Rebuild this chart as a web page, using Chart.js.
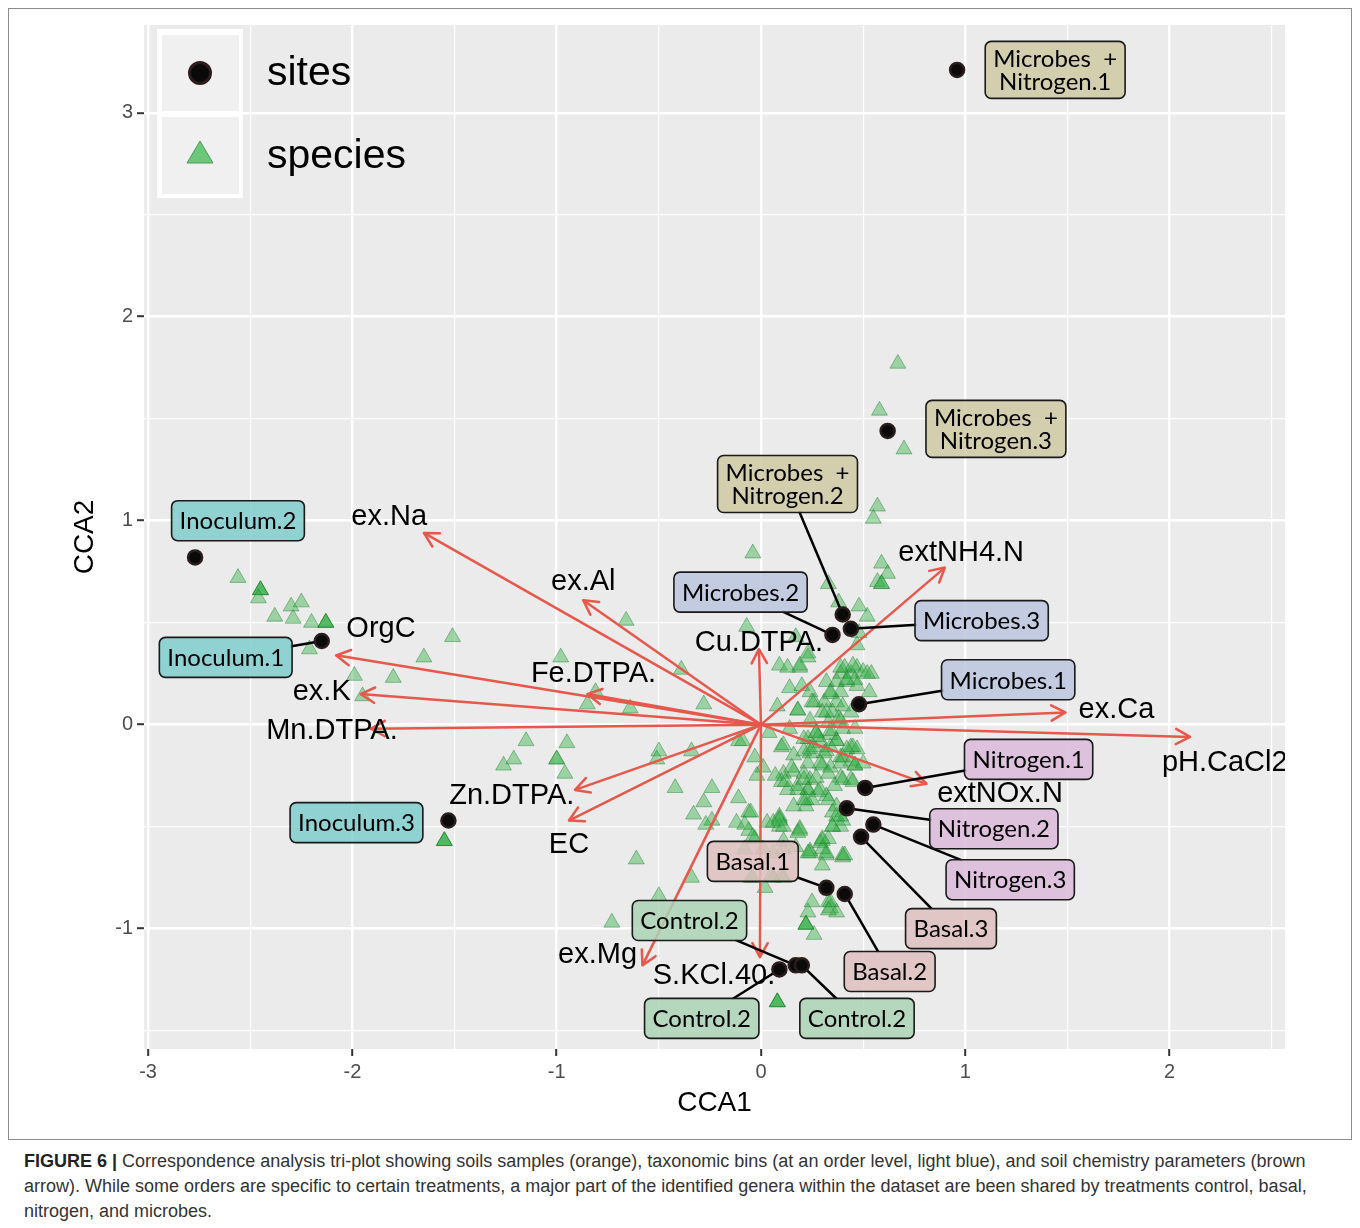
<!DOCTYPE html>
<html><head><meta charset="utf-8">
<script src="https://cdn.jsdelivr.net/npm/chart.js@4/dist/chart.umd.min.js"></script>
<style>
html,body{margin:0;padding:0;background:#fff;width:1360px;height:1228px;overflow:hidden;font-family:"Liberation Sans",Arial,sans-serif;}
#frame{position:absolute;left:8px;top:8px;width:1344px;height:1132px;border:1px solid #8c8c8c;box-sizing:border-box;}
#wrap{position:absolute;left:0;top:0;width:1360px;height:1140px;}
#caption{position:absolute;left:24px;top:1149px;width:1330px;font-size:18px;line-height:25px;color:#333;white-space:nowrap;}
#caption b{color:#222;}
</style></head><body>
<div id="frame"></div>
<div id="wrap"><canvas id="c" width="1360" height="1140"></canvas></div>
<div id="caption"><b>FIGURE 6 |</b> Correspondence analysis tri-plot showing soils samples (orange), taxonomic bins (at an order level, light blue), and soil chemistry parameters (brown<br>arrow). While some orders are specific to certain treatments, a major part of the identified genera within the dataset are been shared by treatments control, basal,<br>nitrogen, and microbes.</div>
<script>
// ---------------- DATA ----------------
const xTickValues = [-3, -2, -1, 0, 1, 2];
const yTickValues = [-1, 0, 1, 2, 3];
const xRange = [-3.02, 2.565];
const yRange = [-1.59, 3.43];

const legendNames = ["sites", "species"];
const xTitle = "CCA1";
const yTitle = "CCA2";

// sites
const siteNames = [
  "Microbes  +\nNitrogen.1", "Microbes  +\nNitrogen.3", "Microbes  +\nNitrogen.2",
  "Microbes.2", "Microbes.3", "Microbes.1",
  "Nitrogen.1", "Nitrogen.2", "Nitrogen.3",
  "Basal.3", "Basal.1", "Basal.2",
  "Control.2", "Control.2", "Control.2",
  "Inoculum.2", "Inoculum.1", "Inoculum.3"
];
const siteGroup = [
  "MN", "MN", "MN", "M", "M", "M", "N", "N", "N",
  "B", "B", "B", "C", "C", "C", "I", "I", "I"
];
const siteX = [0.96, 0.62, 0.40, 0.35, 0.44, 0.48, 0.51, 0.42, 0.55, 0.49, 0.32, 0.41, 0.17, 0.09, 0.20, -2.77, -2.15, -1.53];
const siteY = [3.21, 1.44, 0.54, 0.44, 0.47, 0.10, -0.31, -0.41, -0.49, -0.55, -0.80, -0.83, -1.18, -1.20, -1.18, 0.82, 0.41, -0.47];
// label anchors (repelled label centres, data units)
const siteLabelX = [1.44, 1.15, 0.13, -0.10, 1.08, 1.21, 1.31, 1.14, 1.22, 0.93, -0.04, 0.63, -0.35, -0.29, 0.47, -2.56, -2.62, -1.98];
const siteLabelY = [3.21, 1.45, 1.18, 0.65, 0.51, 0.22, -0.17, -0.51, -0.76, -1.00, -0.67, -1.21, -0.96, -1.44, -1.44, 1.00, 0.33, -0.48];
const siteLinked = [false, false, true, true, true, true, true, true, true, true, true, true, true, true, true, false, true, false];

// environmental vectors
const envNames = ["ex.Na", "ex.Al", "OrgC", "Fe.DTPA.", "ex.K", "Mn.DTPA.", "Cu.DTPA.", "Zn.DTPA.", "EC", "ex.Mg", "S.KCl.40.", "extNH4.N", "ex.Ca", "pH.CaCl2", "extNOx.N"];
const envX = [-1.65, -0.87, -2.08, -0.85, -1.96, -1.91, -0.01, -0.91, -0.94, -0.58, -0.005, 0.90, 1.49, 2.10, 0.81];
const envY = [0.94, 0.61, 0.34, 0.15, 0.15, -0.02, 0.37, -0.32, -0.47, -1.18, -1.14, 0.77, 0.06, -0.06, -0.29];
const envLabelX = [-1.82, -0.87, -1.86, -0.82, -2.15, -2.10, -0.01, -1.22, -0.94, -0.80, -0.23, 0.98, 1.74, 2.27, 1.17];
const envLabelY = [1.02, 0.70, 0.47, 0.25, 0.16, -0.03, 0.40, -0.35, -0.59, -1.13, -1.23, 0.84, 0.07, -0.19, -0.34];

// species scores
const speciesX = [
  -2.56,-2.45,-2.45,-2.45,-2.46,-2.30,-2.25,-2.38,-2.29,-2.20,-2.13,-2.13,-2.13,-2.21,-1.51,-1.65,-1.99,-1.80,-1.95,-1.55,-1.55,-1.55,
  -0.04,-0.66,-0.07,-0.98,-0.39,-0.81,-0.85,-0.64,-0.28,-1.15,-0.95,-1.21,-1.26,-1.00,-1.00,-0.96,-0.50,-0.51,-0.34,-0.11,-0.42,-0.24,
  -0.28,-0.33,-0.24,-0.27,-0.11,-0.06,-0.12,-0.03,0.01,-0.02,0.03,0.09,0.09,0.19,-0.06,-0.61,-0.08,-0.03,0.11,0.17,-0.05,0.06,0.11,0.02,
  -0.34,-0.50,-0.73,0.25,0.23,0.33,0.34,0.37,0.22,0.22,0.22,0.26,0.08,0.08,0.08,0.24,0.30,0.32,0.40,0.30,
  0.67,0.58,0.70,0.57,0.55,0.59,0.62,0.57,0.59,0.59,0.33,0.38,0.48,0.52,0.48,0.47,0.23,0.17,
  0.23,0.19,0.09,0.13,0.41,0.47,0.50,0.44,0.54,0.39,0.46,0.42,0.47,0.37,0.14,0.20,0.24,0.39,0.34,0.08,0.18,0.26,0.31,0.37,0.40,0.44,
  0.30,0.35,0.39,0.33,0.24,0.27,0.27,0.34,0.40,0.46,0.23,0.29,0.37,0.37,0.44,0.47,0.10,0.16,0.24,0.32,0.39,-0.09,0.14,
  0.11,0.21,0.26,0.34,0.45,0.40,0.44,0.30,0.34,0.11,0.16,0.21,0.24,0.39,0.44,0.18,0.23,0.23,0.10,0.13,0.36,0.29,0.32,0.21,0.25,0.22,
  0.37,0.35,-0.05,0.09,0.06,0.11,-0.08,0.39,0.35,0.39,0.40,0.19,-0.04,0.33,0.29,0.30,0.24,0.41,0.11,0.06,0.01,0.10,-0.04,0.05,0.34,0.33,
  0.19,0.32,0.39,0.45,0.52,0.53,0.42,0.34,0.25,0.18,0.32,0.38,0.04,0.21,0.28,0.34,0.24,0.31,0.42,0.46,0.46,0.50,0.39,0.29,0.23,0.15,
  0.07,0.12,0.21,0.27,0.33,0.40,0.45,0.18,0.22,0.28,0.33,0.16,0.09,0.37,0.35,0.18,0.30,0.32,0.40,0.23
];
const speciesY = [
  0.72,0.66,0.66,0.66,0.62,0.58,0.60,0.53,0.52,0.50,0.50,0.50,0.50,0.37,0.43,0.33,0.24,0.23,0.14,-0.57,-0.57,-0.57,
  0.84,0.51,0.48,0.33,0.27,0.16,0.10,0.08,0.10,-0.08,-0.09,-0.17,-0.20,-0.17,-0.17,-0.24,-0.13,-0.17,-0.13,-0.08,-0.31,-0.31,
  -0.38,-0.44,-0.47,-0.49,-0.36,-0.43,-0.48,-0.16,-0.21,-0.25,-0.48,-0.45,-0.50,-0.52,-0.52,-0.66,-0.61,-0.56,-0.57,-0.60,-0.75,-0.75,-0.75,-0.80,
  -0.75,-0.84,-0.97,-0.87,-0.92,-0.87,-0.90,-0.92,-0.98,-0.98,-0.98,-1.03,-1.36,-1.36,-1.36,-0.62,-0.57,-0.64,-0.65,-0.69,
  1.77,1.54,1.35,1.07,1.01,0.79,0.74,0.70,0.69,0.69,0.69,0.60,0.58,0.53,0.45,0.39,0.35,0.43,
  0.33,0.28,0.29,0.28,0.28,0.28,0.26,0.25,0.25,0.25,0.22,0.21,0.19,0.21,0.18,0.19,0.16,0.16,0.15,0.09,0.07,0.11,0.11,0.11,0.09,0.06,
  0.06,0.06,0.02,0.01,0.02,-0.04,-0.04,-0.05,-0.02,-0.02,-0.07,-0.09,-0.08,-0.08,-0.11,-0.12,-0.11,-0.15,-0.14,-0.13,-0.16,-0.08,-0.02,
  -0.10,-0.13,-0.11,-0.11,-0.11,-0.16,-0.18,-0.20,-0.21,-0.24,-0.23,-0.24,-0.27,-0.26,-0.27,-0.30,-0.32,-0.32,-0.28,-0.32,-0.30,-0.32,-0.35,-0.37,-0.37,-0.40,
  -0.40,-0.43,-0.43,-0.46,-0.48,-0.50,-0.49,-0.45,-0.50,-0.50,-0.47,-0.51,-0.55,-0.56,-0.58,-0.61,-0.63,-0.64,-0.61,-0.63,-0.61,-0.74,-0.75,-0.74,-0.87,-0.91,
  0.29,0.21,0.28,0.29,0.25,0.16,0.22,0.16,0.11,0.07,0.06,0.03,-0.04,-0.07,-0.06,-0.03,-0.12,-0.14,-0.12,-0.20,-0.20,-0.19,-0.19,-0.19,-0.19,-0.21,
  -0.25,-0.28,-0.27,-0.26,-0.24,-0.27,-0.28,-0.32,-0.37,-0.33,-0.37,-0.40,-0.47,-0.45,-0.50,-0.53,-0.56,-0.63,-0.64,-0.63
];

// ---------------- STYLE ----------------
const FONT = "'Liberation Sans', Arial, Helvetica, sans-serif";
const LABEL_FONT_FAMILY = "Lato, 'Open Sans', sans-serif";
const groupFill = {
  MN: "rgba(207,201,163,0.85)", M: "rgba(187,198,222,0.85)", N: "rgba(220,187,219,0.85)",
  B: "rgba(223,191,191,0.85)", C: "rgba(172,211,181,0.85)", I: "rgba(128,205,206,0.85)"
};
const ARROW_COLOR = "#E6584C";

Chart.defaults.font.family = FONT;

const minorOf = (vals, lo, hi) => {
  const out = [];
  const all = vals.concat(vals.map(v => v + 0.5), vals.map(v => v - 0.5));
  all.forEach(v => { if (v >= lo && v <= hi && !out.includes(v)) out.push(v); });
  return out.sort((a, b) => a - b);
};
const xAll = minorOf(xTickValues, xRange[0], xRange[1]);
const yAll = minorOf(yTickValues, yRange[0], yRange[1]);

function siteBoxes(chart) {
  const { ctx, scales } = chart;
  ctx.save();
  ctx.font = "24px " + LABEL_FONT_FAMILY;
  const boxes = siteNames.map((name, i) => {
    const lines = name.split("\n");
    const w = Math.max(...lines.map(l => ctx.measureText(l).width)) + 16;
    const h = lines.length === 1 ? 40 : 57;
    return {
      lines, w, h,
      cx: scales.x.getPixelForValue(siteLabelX[i]),
      cy: scales.y.getPixelForValue(siteLabelY[i])
    };
  });
  ctx.restore();
  return boxes;
}

function roundRect(ctx, x, y, w, h, r) {
  ctx.beginPath();
  ctx.moveTo(x + r, y);
  ctx.lineTo(x + w - r, y); ctx.arcTo(x + w, y, x + w, y + r, r);
  ctx.lineTo(x + w, y + h - r); ctx.arcTo(x + w, y + h, x + w - r, y + h, r);
  ctx.lineTo(x + r, y + h); ctx.arcTo(x, y + h, x, y + h - r, r);
  ctx.lineTo(x, y + r); ctx.arcTo(x, y, x + r, y, r);
  ctx.closePath();
}

const SITES_DS = 1;
const ARROW_DS0 = 2;

const bgPlugin = {
  id: "panelBg",
  beforeDraw(chart) {
    const { ctx, chartArea: a } = chart;
    ctx.save();
    ctx.fillStyle = "#EBEBEB";
    ctx.fillRect(a.left, a.top, a.right - a.left, a.bottom - a.top);
    ctx.restore();
  },
  afterDatasetDraw(chart, args) {
    const i = args.index - ARROW_DS0;
    if (i < 0 || i >= envNames.length) return;
    const { ctx, scales } = chart;
    const ox = scales.x.getPixelForValue(0), oy = scales.y.getPixelForValue(0);
    const tx = scales.x.getPixelForValue(envX[i]), ty = scales.y.getPixelForValue(envY[i]);
    const ang = Math.atan2(ty - oy, tx - ox);
    const L = 16, spread = 0.5;
    ctx.save();
    ctx.strokeStyle = ARROW_COLOR; ctx.lineWidth = 2.5; ctx.lineCap = "round"; ctx.lineJoin = "round";
    ctx.beginPath();
    ctx.moveTo(tx - L * Math.cos(ang - spread), ty - L * Math.sin(ang - spread));
    ctx.lineTo(tx, ty);
    ctx.lineTo(tx - L * Math.cos(ang + spread), ty - L * Math.sin(ang + spread));
    ctx.stroke();
    ctx.restore();
  },
  beforeDatasetDraw(chart, args) {
    if (args.index !== SITES_DS) return;
    const { ctx, scales } = chart;
    const boxes = siteBoxes(chart);
    ctx.save();
    ctx.strokeStyle = "#000"; ctx.lineWidth = 2.5;
    boxes.forEach((b, i) => {
      if (!siteLinked[i]) return;
      const px = scales.x.getPixelForValue(siteX[i]), py = scales.y.getPixelForValue(siteY[i]);
      const dx = px - b.cx, dy = py - b.cy;
      const t = Math.min(dx !== 0 ? (b.w / 2) / Math.abs(dx) : Infinity, dy !== 0 ? (b.h / 2) / Math.abs(dy) : Infinity);
      if (t >= 1) return;
      ctx.beginPath();
      ctx.moveTo(b.cx + dx * t * 0.97, b.cy + dy * t * 0.97);
      ctx.lineTo(px, py);
      ctx.stroke();
    });
    ctx.restore();
  },
  afterDatasetsDraw(chart) {
    const { ctx, scales, chartArea: a } = chart;
    // arrow labels
    ctx.save();
    ctx.beginPath(); ctx.rect(a.left, a.top, a.right - a.left, a.bottom - a.top); ctx.clip();
    ctx.fillStyle = "#000"; ctx.font = "29px " + FONT; ctx.textAlign = "center"; ctx.textBaseline = "middle";
    envNames.forEach((n, i) => {
      ctx.fillText(n, scales.x.getPixelForValue(envLabelX[i]), scales.y.getPixelForValue(envLabelY[i]));
    });
    ctx.restore();
    // site labels
    const boxes = siteBoxes(chart);
    ctx.save();
    ctx.font = "24px " + LABEL_FONT_FAMILY; ctx.textAlign = "center"; ctx.textBaseline = "middle";
    boxes.forEach((b, i) => {
      const x0 = b.cx - b.w / 2, y0 = b.cy - b.h / 2;
      roundRect(ctx, x0, y0, b.w, b.h, 6);
      ctx.fillStyle = groupFill[siteGroup[i]]; ctx.fill();
      ctx.strokeStyle = "#1a1a1a"; ctx.lineWidth = 1.6; ctx.stroke();
      ctx.fillStyle = "#000";
      const lh = 23;
      b.lines.forEach((l, k) => {
        ctx.fillText(l, b.cx, b.cy + (k - (b.lines.length - 1) / 2) * lh + 1);
      });
    });
    ctx.restore();
  },
  afterDraw(chart) {
    const { ctx } = chart;
    ctx.save();
    ctx.fillStyle = "#ffffff";
    ctx.fillRect(157, 29, 86, 169);
    ctx.fillStyle = "#F0F0F0";
    ctx.fillRect(162, 35, 77, 76);
    ctx.fillRect(162, 117, 77, 77);
    // site key
    ctx.beginPath(); ctx.arc(200, 73, 10.5, 0, Math.PI * 2);
    ctx.fillStyle = "#0a0a0a"; ctx.fill();
    ctx.strokeStyle = "#2a1d1b"; ctx.lineWidth = 3; ctx.stroke();
    // species key
    ctx.beginPath(); ctx.moveTo(200, 141); ctx.lineTo(213, 163); ctx.lineTo(187, 163); ctx.closePath();
    ctx.fillStyle = "#6CC77A"; ctx.fill();
    ctx.strokeStyle = "#4E9E5C"; ctx.lineWidth = 1; ctx.stroke();
    ctx.fillStyle = "#000"; ctx.font = "41px " + FONT; ctx.textAlign = "left"; ctx.textBaseline = "middle";
    ctx.fillText(legendNames[0], 267, 74);
    ctx.fillText(legendNames[1], 267, 157);
    ctx.restore();
  }
};

const datasets = [];
datasets.push({
  label: "species",
  data: speciesX.map((v, i) => ({ x: v, y: speciesY[i] })),
  pointStyle: "triangle", pointRadius: 9.2, pointHoverRadius: 9.2,
  backgroundColor: "rgba(45,175,65,0.42)", borderColor: "rgba(25,120,40,0.42)", borderWidth: 1,
  order: 30
});
datasets.push({
  label: "sites",
  data: siteX.map((v, i) => ({ x: v, y: siteY[i] })),
  pointStyle: "circle", pointRadius: 7, pointHoverRadius: 7,
  backgroundColor: "#0a0a0a", borderColor: "#2a1d1b", borderWidth: 2.5,
  order: 0
});
envNames.forEach((n, i) => {
  datasets.push({
    label: n,
    data: [{ x: 0, y: 0 }, { x: envX[i], y: envY[i] }],
    showLine: true, borderColor: ARROW_COLOR, borderWidth: 2.5,
    pointRadius: 0, pointHoverRadius: 0, order: 10
  });
});

const isMajorX = v => xTickValues.some(t => Math.abs(t - v) < 1e-9);
const isMajorY = v => yTickValues.some(t => Math.abs(t - v) < 1e-9);

new Chart(document.getElementById("c"), {
  type: "scatter",
  data: { datasets },
  plugins: [bgPlugin],
  options: {
    responsive: false, animation: false, devicePixelRatio: 1, events: [],
    layout: { padding: { left: 0, right: 75, top: 25, bottom: 0 } },
    plugins: { legend: { display: false }, tooltip: { enabled: false } },
    scales: {
      x: {
        type: "linear", min: xRange[0], max: xRange[1],
        afterBuildTicks: ax => { ax.ticks = xAll.map(v => ({ value: v })); },
        afterFit: s => { s.height = 91; },
        ticks: {
          autoSkip: false, maxRotation: 0, padding: 4, color: "#4D4D4D",
          font: { size: 20, family: FONT },
          callback: v => (isMajorX(v) ? String(v) : "")
        },
        grid: {
          color: "#FFFFFF",
          lineWidth: c => (c.tick && isMajorX(c.tick.value) ? 2.4 : 1.2),
          tickColor: c => (c.tick && isMajorX(c.tick.value) ? "#333333" : "rgba(0,0,0,0)"),
          tickLength: 7, tickWidth: 2
        },
        border: { display: false },
        title: { display: true, text: xTitle, color: "#000", font: { size: 28, family: FONT }, padding: { top: 0, bottom: 20 } }
      },
      y: {
        type: "linear", min: yRange[0], max: yRange[1],
        afterBuildTicks: ax => { ax.ticks = yAll.map(v => ({ value: v })); },
        afterFit: s => { s.width = 144; },
        ticks: {
          autoSkip: false, padding: 4, color: "#4D4D4D",
          font: { size: 20, family: FONT },
          callback: v => (isMajorY(v) ? String(v) : "")
        },
        grid: {
          color: "#FFFFFF",
          lineWidth: c => (c.tick && isMajorY(c.tick.value) ? 2.4 : 1.2),
          tickColor: c => (c.tick && isMajorY(c.tick.value) ? "#333333" : "rgba(0,0,0,0)"),
          tickLength: 7, tickWidth: 2
        },
        border: { display: false },
        title: { display: true, text: yTitle, color: "#000", font: { size: 28, family: FONT }, padding: { top: 68, bottom: 0 } }
      }
    }
  }
});
</script>
</body></html>
